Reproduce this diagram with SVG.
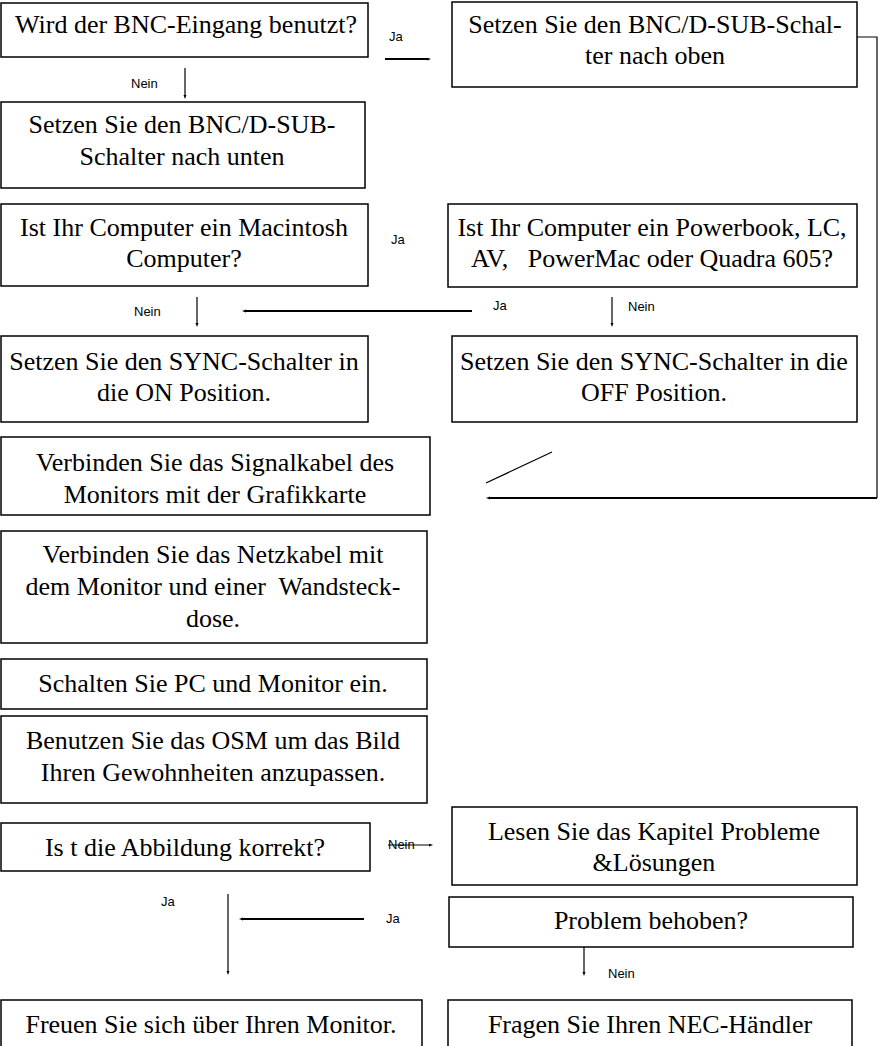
<svg xmlns="http://www.w3.org/2000/svg" width="881" height="1046" viewBox="0 0 881 1046">
<style>
.box{fill:#fff;stroke:#000;stroke-width:1.5}
.t{font-family:"Liberation Serif","Times New Roman",serif;font-size:26px;fill:#000;text-anchor:middle;white-space:pre}
.l{font-family:"Liberation Sans",Arial,sans-serif;font-size:13px;fill:#000}
.c{stroke:#000;stroke-width:1.2;fill:none}
.c2{stroke:#000;stroke-width:2;fill:none}
.a{marker-end:url(#tip)}
</style>
<defs>
<marker id="tip" markerUnits="userSpaceOnUse" markerWidth="5" markerHeight="4" refX="1" refY="1.5" orient="auto"><path d="M0,0 L4,1.5 L0,3 z" fill="#000"/></marker>
</defs>
<rect width="881" height="1046" fill="#fff"/>
<g id="connectors">
<line class="c2 a" x1="385" y1="59" x2="428" y2="59"/>
<line class="c a" x1="185" y1="68" x2="185" y2="96"/>
<polyline class="c" points="857,37 877,37 877,498"/>
<line class="c2 a" x1="877" y1="498" x2="489" y2="498"/>
<line class="c" x1="486" y1="483" x2="552" y2="452"/>
<line class="c a" x1="197" y1="297" x2="197" y2="324"/>
<line class="c2 a" x1="472" y1="311" x2="245" y2="311"/>
<line class="c a" x1="612" y1="297" x2="612" y2="324"/>
<line class="c a" x1="388" y1="845" x2="430" y2="845"/>
<line class="c a" x1="228" y1="894" x2="228" y2="972"/>
<line class="c2 a" x1="364" y1="919" x2="242" y2="919"/>
<line class="c a" x1="584" y1="945" x2="584" y2="973"/>
<text class="l" x="389" y="41">Ja</text>
<text class="l" x="131" y="88">Nein</text>
<text class="l" x="391" y="244">Ja</text>
<text class="l" x="134" y="316">Nein</text>
<text class="l" x="493" y="310">Ja</text>
<text class="l" x="628" y="311">Nein</text>
<text class="l" x="388" y="849">Nein</text>
<text class="l" x="161" y="906">Ja</text>
<text class="l" x="386" y="923">Ja</text>
<text class="l" x="608" y="978">Nein</text>
</g>
<g id="n1"><rect class="box" x="1" y="3" width="367" height="54"/><text class="t" x="186" y="33">Wird der BNC-Eingang benutzt?</text></g>
<g id="n2"><rect class="box" x="452" y="2" width="405" height="85"/><text class="t" x="655" y="33">Setzen Sie den BNC/D-SUB-Schal-</text><text class="t" x="655" y="64">ter nach oben</text></g>
<g id="n3"><rect class="box" x="1" y="102" width="364" height="86"/><text class="t" x="182" y="133">Setzen Sie den BNC/D-SUB-</text><text class="t" x="182" y="165">Schalter nach unten</text></g>
<g id="n4"><rect class="box" x="1" y="204" width="367" height="82"/><text class="t" x="184" y="236">Ist Ihr Computer ein Macintosh</text><text class="t" x="184" y="267">Computer?</text></g>
<g id="n5"><rect class="box" x="448" y="204" width="409" height="83"/><text class="t" x="652" y="236">Ist Ihr Computer ein Powerbook, LC,</text><text class="t" x="652" y="267">AV,   PowerMac oder Quadra 605?</text></g>
<g id="n6"><rect class="box" x="1" y="336" width="367" height="86"/><text class="t" x="184" y="370">Setzen Sie den SYNC-Schalter in</text><text class="t" x="184" y="401">die ON Position.</text></g>
<g id="n7"><rect class="box" x="452" y="336" width="405" height="86"/><text class="t" x="654" y="370">Setzen Sie den SYNC-Schalter in die</text><text class="t" x="654" y="401">OFF Position.</text></g>
<g id="n8"><rect class="box" x="1" y="437" width="429" height="78"/><text class="t" x="215" y="471">Verbinden Sie das Signalkabel des</text><text class="t" x="215" y="503">Monitors mit der Grafikkarte</text></g>
<g id="n9"><rect class="box" x="1" y="531" width="426" height="112"/><text class="t" x="213" y="563">Verbinden Sie das Netzkabel mit</text><text class="t" x="213" y="595">dem Monitor und einer  Wandsteck-</text><text class="t" x="213" y="627">dose.</text></g>
<g id="n10"><rect class="box" x="1" y="659" width="426" height="50"/><text class="t" x="213" y="692">Schalten Sie PC und Monitor ein.</text></g>
<g id="n11"><rect class="box" x="1" y="716" width="426" height="87"/><text class="t" x="213" y="749">Benutzen Sie das OSM um das Bild</text><text class="t" x="213" y="781">Ihren Gewohnheiten anzupassen.</text></g>
<g id="n12"><rect class="box" x="1" y="823" width="369" height="48"/><text class="t" x="185" y="856">Is t die Abbildung korrekt?</text></g>
<g id="n13"><rect class="box" x="452" y="807" width="405" height="78"/><text class="t" x="654" y="840">Lesen Sie das Kapitel Probleme</text><text class="t" x="654" y="871">&amp;Lösungen</text></g>
<g id="n14"><rect class="box" x="449" y="897" width="404" height="50"/><text class="t" x="651" y="929">Problem behoben?</text></g>
<g id="n15"><rect class="box" x="1" y="1000" width="421" height="50"/><text class="t" x="211" y="1033">Freuen Sie sich über Ihren Monitor.</text></g>
<g id="n16"><rect class="box" x="448" y="1000" width="404" height="50"/><text class="t" x="650" y="1033">Fragen Sie Ihren NEC-Händler</text></g>
</svg>
